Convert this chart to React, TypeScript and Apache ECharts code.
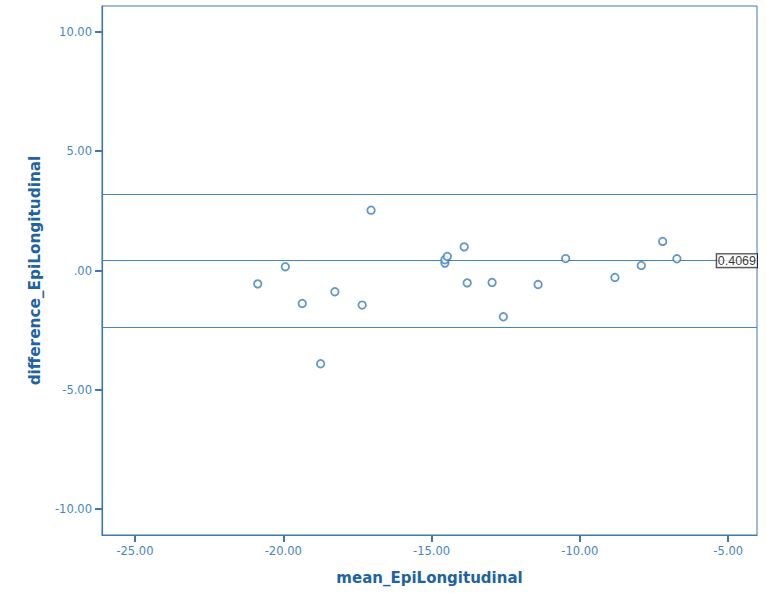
import React, { useEffect, useRef } from "react";
import * as echarts from "echarts";

// Data (Bland-Altman style plot)
const meanValues = [
  -20.86, -19.93, -19.36, -18.74, -18.26, -17.34, -17.04, -14.55, -14.55, -14.47,
  -13.9, -13.8, -12.96, -12.58, -11.41, -10.48, -8.82, -7.93, -7.21, -6.73,
];
const diffValues = [
  -0.56, 0.16, -1.38, -3.91, -0.89, -1.45, 2.53, 0.31, 0.45, 0.59,
  0.99, -0.52, -0.5, -1.94, -0.59, 0.5, -0.29, 0.21, 1.22, 0.49,
];
const meanDifference = 0.4069;
const upperLimit = 3.2;
const lowerLimit = -2.37;
const meanLabel = "0.4069";

const xTicks = [-25, -20, -15, -10, -5];
const xTickLabels = ["-25.00", "-20.00", "-15.00", "-10.00", "-5.00"];
const yTicks = [-10, -5, 0, 5, 10];
const yTickLabels = ["-10.00", "-5.00", ".00", "5.00", "10.00"];
const xRange = [-26.11, -4.03];
const yRange = [-11.09, 11.09];

const xName = "mean_EpiLongitudinal";
const yName = "difference_EpiLongitudinal";

const AXIS_COLOR = "#3f78b0";
const LABEL_COLOR = "#4586c2";
const TITLE_COLOR = "#2163a1";
const POINT_COLOR = "#3b7dbb";
const LINE_COLOR = "#4684bb";

export default function App() {
  const ref = useRef<HTMLDivElement>(null);

  useEffect(() => {
    if (!ref.current) return;
    const chart = echarts.init(ref.current, null, { renderer: "svg" });
    const labelFor = (ticks: number[], labels: string[]) => (v: number) => {
      const i = ticks.findIndex((t) => Math.abs(t - v) < 1e-6);
      return i >= 0 ? labels[i] : "";
    };
    chart.setOption({
      animation: false,
      backgroundColor: "#ffffff",
      grid: {
        left: 102,
        top: 6,
        width: 655,
        height: 529,
        show: true,
        borderColor: AXIS_COLOR,
        borderWidth: 1,
        backgroundColor: "transparent",
      },
      xAxis: {
        type: "value",
        min: xRange[0],
        max: xRange[1],
        name: xName,
        nameLocation: "middle",
        nameGap: 35,
        nameTextStyle: {
          color: TITLE_COLOR,
          fontFamily: "DejaVu Sans",
          fontWeight: "bold",
          fontSize: 15,
        },
        axisLine: { show: true, onZero: false, lineStyle: { color: AXIS_COLOR, width: 1.2 } },
        axisTick: {
          show: true,
          inside: false,
          customValues: xTicks,
          length: 7,
          lineStyle: { color: AXIS_COLOR, width: 2 },
        },
        axisLabel: {
          customValues: xTicks,
          formatter: labelFor(xTicks, xTickLabels),
          color: LABEL_COLOR,
          fontFamily: "DejaVu Sans",
          fontSize: 11.5,
          margin: 10,
        },
        splitLine: { show: false },
      },
      yAxis: {
        type: "value",
        min: yRange[0],
        max: yRange[1],
        name: yName,
        nameLocation: "middle",
        nameGap: 60,
        nameTextStyle: {
          color: TITLE_COLOR,
          fontFamily: "DejaVu Sans",
          fontWeight: "bold",
          fontSize: 15.3,
        },
        axisLine: { show: true, onZero: false, lineStyle: { color: AXIS_COLOR, width: 1.2 } },
        axisTick: {
          show: true,
          inside: false,
          customValues: yTicks,
          length: 7,
          lineStyle: { color: AXIS_COLOR, width: 2 },
        },
        axisLabel: {
          customValues: yTicks,
          formatter: labelFor(yTicks, yTickLabels),
          color: LABEL_COLOR,
          fontFamily: "DejaVu Sans",
          fontSize: 11.5,
          margin: 10,
        },
        splitLine: { show: false },
      },
      series: [
        {
          type: "scatter",
          data: meanValues.map((m, i) => [m, diffValues[i]]),
          symbol: "circle",
          symbolSize: 7.5,
          itemStyle: {
            color: "#ffffff",
            borderColor: POINT_COLOR,
            borderWidth: 1.8,
          },
          markLine: {
            silent: true,
            symbol: "none",
            label: { show: false },
            lineStyle: { color: LINE_COLOR, width: 1.2, type: "solid" },
            data: [
              { yAxis: upperLimit },
              { yAxis: meanDifference },
              { yAxis: lowerLimit },
            ],
            z: 1,
          },
          z: 3,
        },
        {
          type: "scatter",
          data: [[xRange[1], meanDifference]],
          symbolSize: 0,
          clip: false,
          silent: true,
          z: 5,
          label: {
            show: true,
            position: "left",
            distance: 0,
            formatter: meanLabel,
            color: "#000000",
            fontFamily: "Liberation Sans",
            fontSize: 12.5,
            backgroundColor: "#ffffff",
            borderColor: "#000000",
            borderWidth: 1,
            padding: [0, 1, 0, 1],
          },
        },
      ],
    });
    return () => chart.dispose();
  }, []);

  return (
    <div
      ref={ref}
      style={{ position: "fixed", left: 0, top: 0, width: 766, height: 593 }}
    />
  );
}
